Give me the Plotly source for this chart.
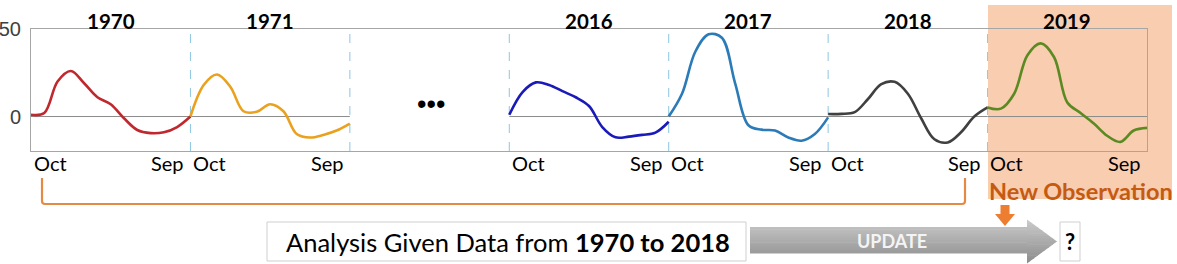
import plotly.graph_objects as go

# ---------------- data ----------------
years = ["1970", "1971", "2016", "2017", "2018", "2019"]
months_axis = ["Oct", "Sep"]
v1970 = [1, 2, 20, 26, 19, 11, 7, -1, -7.7, -9.5, -9, -6, 0]
v1971 = [0, 18, 24, 17, 3, 2.7, 7, 3, -10, -12, -10.5, -8, -4]
v2016 = [1, 14, 19.5, 18, 14.5, 11, 6, -6, -11.9, -11.5, -10.5, -9.2, -3]
v2017 = [0, 13, 37, 47, 45, 19, -5, -7.5, -8, -12, -13.8, -10, -0.5]
v2018 = [1.4, 1.5, 2.5, 10, 18.5, 19.8, 13, -1, -13, -14.8, -9, 0, 5.2]
v2019 = [5.2, 4.5, 13, 35, 41.8, 34, 8, 2, -4, -11, -14.5, -8, -6.5]
series = [v1970, v1971, v2016, v2017, v2018, v2019]
colors = ["#C0282E", "#E9A11E", "#1A1AB8", "#2B7BB8", "#404040", "#5B8A22"]
ytick_vals = [0, 50]

# ---------------- layout helpers ----------------
W_FIG, H_FIG = 1177, 264
L, R, T, B = 31, 1147, 29, 151
PW, PH = R - L, B - T
slots = [0, 1, 3, 4, 5, 6]  # gap slot 2 for "..."
NSLOT = 7


def px(x):
    return (x - L) / PW


def py(y):
    return (B - y) / PH


FONT = "Lato"

fig = go.Figure()

for yr, vals, col, s in zip(years, series, colors, slots):
    xs = [12 * s + m for m in range(len(vals))]
    fig.add_trace(go.Scatter(
        x=xs, y=vals, mode="lines",
        line=dict(color=col, width=2.6, shape="spline", smoothing=1.0),
        hoverinfo="skip", showlegend=False))

shapes = []
# peach highlight behind 2019
shapes.append(dict(type="rect", xref="paper", yref="paper",
                   x0=px(988), x1=px(1172), y0=py(199), y1=py(5),
                   fillcolor="#F8CDB0", line=dict(width=0), layer="below"))
# zero lines per panel
for s in slots:
    shapes.append(dict(type="line", xref="x", yref="y",
                       x0=12 * s, x1=12 * s + 12, y0=0, y1=0,
                       line=dict(color="#8C8C8C", width=1), layer="below"))
# dashed separators
for k in range(1, NSLOT):
    shapes.append(dict(type="line", xref="x", yref="paper",
                       x0=12 * k, x1=12 * k, y0=0, y1=1,
                       line=dict(color="#8CC6E0", width=1, dash="dash"),
                       layer="below"))

# orange bracket
def P(x, y):
    return f"{px(x):.5f},{py(y):.5f}"

bracket = (f"M {P(42,178)} L {P(42,201)} Q {P(42,204)} {P(45,204)} "
           f"L {P(962,204)} Q {P(965,204)} {P(965,201)} L {P(965,178)}")
shapes.append(dict(type="path", xref="paper", yref="paper", path=bracket,
                   line=dict(color="#E58A45", width=2.2)))

# analysis text box
shapes.append(dict(type="rect", xref="paper", yref="paper",
                   x0=px(267), x1=px(746), y0=py(261), y1=py(222),
                   fillcolor="white", line=dict(color="#CFCFCF", width=1)))
# question box
shapes.append(dict(type="rect", xref="paper", yref="paper",
                   x0=px(1060), x1=px(1080), y0=py(261), y1=py(222),
                   fillcolor="white", line=dict(color="#CFCFCF", width=1)))

# UPDATE arrow with vertical gradient
def lerp_col(t):
    c0 = (0xCB, 0xCB, 0xCB)
    c1 = (0x8C, 0x8C, 0x8C)
    c = [round(a + (b - a) * t) for a, b in zip(c0, c1)]
    return "#%02X%02X%02X" % tuple(c)

body_top, body_bot = 227, 253
head_top, head_bot = 219.5, 263.5
x_body0, x_head0, x_tip = 750, 1027, 1057
y_tip = (head_top + head_bot) / 2
nb = 12
for i in range(nb):
    ya = body_top + (body_bot - body_top) * i / nb
    yb = body_top + (body_bot - body_top) * (i + 1) / nb + 0.6
    t = ((ya + yb) / 2 - head_top) / (head_bot - head_top)
    shapes.append(dict(type="rect", xref="paper", yref="paper",
                       x0=px(x_body0), x1=px(x_head0 + 0.5), y0=py(yb), y1=py(ya),
                       fillcolor=lerp_col(t), line=dict(width=0)))

def xt(y):
    return x_tip - (x_tip - x_head0) * abs(y - y_tip) / (y_tip - head_top)

nh = 16
bounds = [head_top + (head_bot - head_top) * i / nh for i in range(nh + 1)]
for i in range(nh):
    ya, yb = bounds[i], min(bounds[i + 1] + 0.6, head_bot)
    pts = [(x_head0, ya), (xt(ya), ya)]
    if ya < y_tip < yb:
        pts.append((x_tip, y_tip))
    pts += [(xt(yb), yb), (x_head0, yb)]
    t = ((ya + yb) / 2 - head_top) / (head_bot - head_top)
    path = "M " + " L ".join(P(a, b) for a, b in pts) + " Z"
    shapes.append(dict(type="path", xref="paper", yref="paper", path=path,
                       fillcolor=lerp_col(t), line=dict(width=0)))

# orange down arrow
down = [(1000.5, 205), (1009.5, 205), (1009.5, 214), (1015, 214), (1005, 226),
        (995, 214), (1000.5, 214)]
shapes.append(dict(type="path", xref="paper", yref="paper",
                   path="M " + " L ".join(P(a, b) for a, b in down) + " Z",
                   fillcolor="#ED7D31", line=dict(width=0)))

annotations = []
for yr, s in zip(years, slots):
    annotations.append(dict(xref="x", yref="paper", x=12 * s + 6, y=py(21),
                            text=f"<b>{yr}</b>", showarrow=False,
                            font=dict(family=FONT, size=20.5, color="black"),
                            xanchor="center", yanchor="middle"))
    annotations.append(dict(xref="x", yref="paper", x=12 * s + 1.45, y=py(163),
                            text=months_axis[0], showarrow=False,
                            font=dict(family=FONT, size=20, color="black"),
                            xanchor="center", yanchor="middle"))
    annotations.append(dict(xref="x", yref="paper", x=12 * s + 10.3, y=py(163),
                            text=months_axis[1], showarrow=False,
                            font=dict(family=FONT, size=20, color="black"),
                            xanchor="center", yanchor="middle"))

annotations.append(dict(xref="paper", yref="paper", x=px(430.5), y=py(104),
                        text="•••", showarrow=False,
                        font=dict(family="Liberation Sans", size=27, color="black"),
                        xanchor="center", yanchor="middle"))
annotations.append(dict(xref="paper", yref="paper", x=px(1081), y=py(191),
                        text="<b>New Observation</b>", showarrow=False,
                        font=dict(family=FONT, size=23.5, color="#C55A11"),
                        xanchor="center", yanchor="middle"))
annotations.append(dict(xref="paper", yref="paper", x=px(284), y=py(241.5),
                        text="Analysis Given Data from <b>1970 to 2018</b>",
                        showarrow=False,
                        font=dict(family=FONT, size=25.5, color="black"),
                        xanchor="left", yanchor="middle"))
annotations.append(dict(xref="paper", yref="paper", x=px(892), y=py(241),
                        text="<b>UPDATE</b>", showarrow=False,
                        font=dict(family=FONT, size=18, color="#F4F4F4"),
                        xanchor="center", yanchor="middle"))
annotations.append(dict(xref="paper", yref="paper", x=px(1070), y=py(241.5),
                        text="<b>?</b>", showarrow=False,
                        font=dict(family=FONT, size=22, color="black"),
                        xanchor="center", yanchor="middle"))

fig.update_layout(
    width=W_FIG, height=H_FIG,
    margin=dict(l=L, r=W_FIG - R, t=T, b=H_FIG - B, pad=0, autoexpand=False),
    paper_bgcolor="white", plot_bgcolor="rgba(0,0,0,0)",
    shapes=shapes, annotations=annotations, showlegend=False,
    xaxis=dict(range=[0, 12 * NSLOT], showgrid=False, zeroline=False,
               showticklabels=False, ticks="", showline=True, mirror=True,
               linecolor="#A6A6A6", linewidth=1, fixedrange=True,
               automargin=False),
    yaxis=dict(range=[-19.7, 50], showgrid=False, zeroline=False,
               tickvals=ytick_vals, ticktext=[str(v) for v in ytick_vals],
               tickfont=dict(family="Liberation Sans", size=20, color="#404040"),
               ticks="", ticklabelstandoff=5, showline=True, mirror=True,
               linecolor="#A6A6A6", linewidth=1, fixedrange=True,
               automargin=False),
)

fig.write_html(
    "out.html",
    config={"displayModeBar": False},
    post_script="document.body.style.margin='0';document.body.style.overflow='hidden';",
)
